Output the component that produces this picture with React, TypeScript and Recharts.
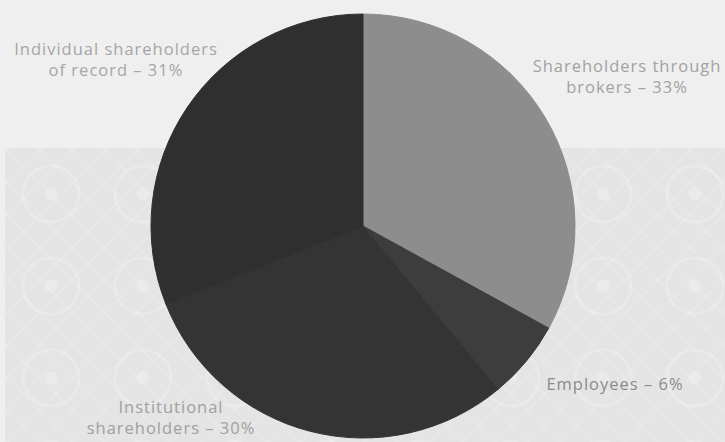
import React from 'react';
import { PieChart, Pie, Cell } from 'recharts';

// Shareholder breakdown, clockwise from 12 o'clock
const holderGroups = ['Shareholders through brokers', 'Employees', 'Institutional shareholders', 'Individual shareholders of record'];
const holderShares = [33, 6, 30, 31];
const labelLines = [
  ['Shareholders through', 'brokers – 33%'],
  ['Employees – 6%'],
  ['Institutional', 'shareholders – 30%'],
  ['Individual shareholders', 'of record – 31%'],
];

const sliceColors = ['#8d8d8d', '#3d3d3d', '#343434', '#2f2f2f'];
const labelColors = ['#a2a2a2', '#8c8c8c', '#a0a0a0', '#a6a6a6'];
// where each caption sits (centre of first line)
const labelSpots = [
  { x: 627, y: 68 },
  { x: 615, y: 386 },
  { x: 171, y: 409 },
  { x: 116, y: 51 },
];

const data = holderGroups.map((name, i) => ({ name, value: holderShares[i] }));

const renderLabel = ({ index }: any) => {
  const spot = labelSpots[index];
  return (
    <text
      key={`lbl-${index}`}
      x={spot.x}
      y={spot.y}
      textAnchor="middle"
      dominantBaseline="middle"
      fill={labelColors[index]}
      fontSize={16.5}
      letterSpacing={1}
      fontFamily="'Open Sans', sans-serif"
    >
      {labelLines[index].map((line, j) => (
        <tspan key={j} x={spot.x} dy={j === 0 ? 0 : 21}>
          {line}
        </tspan>
      ))}
    </text>
  );
};

export default function App() {
  return (
    <div
      style={{
        position: 'fixed',
        top: 0,
        left: 0,
        width: 725,
        height: 442,
        background: '#efefef',
        overflow: 'hidden',
      }}
    >
      {/* faint patterned band behind the lower part of the pie */}
      <div
        style={{
          position: 'absolute',
          left: 5,
          top: 148,
          right: 0,
          bottom: 0,
          background: '#e4e4e4',
          backgroundImage: [
            'radial-gradient(circle at 50% 50%, rgba(255,255,255,0.22) 0 6px, transparent 7px 26px, rgba(255,255,255,0.2) 27px 29px, transparent 30px)',
            'repeating-linear-gradient(45deg, rgba(255,255,255,0.12) 0 2px, transparent 2px 23px)',
            'repeating-linear-gradient(-45deg, rgba(255,255,255,0.12) 0 2px, transparent 2px 23px)',
          ].join(', '),
          backgroundSize: '92px 92px, auto, auto',
        }}
      />
      <div style={{ position: 'absolute', top: 0, left: 0 }}>
        <PieChart width={725} height={442} margin={{ top: 0, right: 0, bottom: 0, left: 0 }}>
          <Pie
            data={data}
            dataKey="value"
            nameKey="name"
            cx={363}
            cy={226}
            outerRadius={212}
            startAngle={90}
            endAngle={-270}
            labelLine={false}
            label={renderLabel}
            isAnimationActive={false}
          >
            {data.map((d, i) => (
              <Cell key={d.name} fill={sliceColors[i]} stroke={sliceColors[i]} strokeWidth={1} />
            ))}
          </Pie>
        </PieChart>
      </div>
    </div>
  );
}
